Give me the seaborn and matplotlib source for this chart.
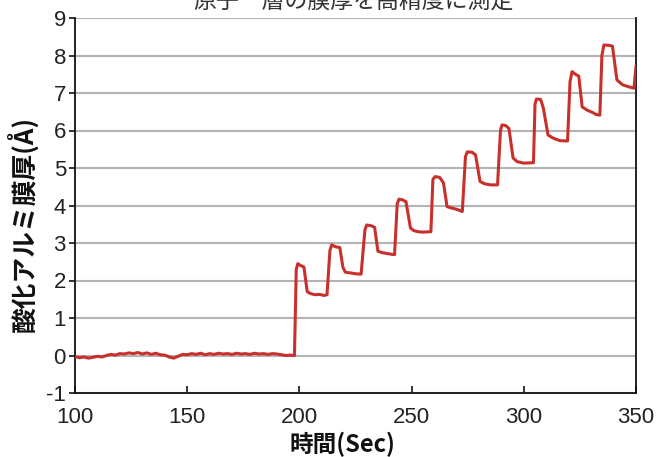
import matplotlib.pyplot as plt
import pandas as pd
import seaborn as sns

# Time axis (sec) and aluminium oxide thickness (angstrom)
time_sec = [
    100, 102, 104, 106, 108, 110, 112, 114, 116, 118, 120, 122, 124, 126, 128,
    130, 132, 134, 136, 138, 140, 142, 144, 146, 148, 150, 152, 154, 156, 158,
    160, 162, 164, 166, 168, 170, 172, 174, 176, 178, 180, 182, 184, 186, 188,
    190, 192, 194, 196, 197.8,
    198.6, 199.3, 200.5, 202.0, 203.5, 205, 207, 209, 211, 212.3,
    213.6, 214.4, 216, 218, 219.4, 220.5, 223, 225, 227.5,
    229.2, 230, 232, 233.5, 235, 237, 239, 241, 242.4,
    243.6, 244.4, 246, 247.5, 249.5, 251, 253, 255, 258.6,
    259.5, 260.5, 262.5, 264.2, 265.8, 268, 270, 272.6,
    274, 274.8, 277, 278.5, 280.5, 282.5, 285, 288.3,
    289.6, 290.3, 292, 293.4, 295.2, 297, 300, 304.3,
    305, 305.6, 307.5, 308.7, 310.8, 313, 316, 319.5,
    320.6, 321.5, 323, 324.5, 326, 328, 331, 332, 333.9,
    334.8, 335.7, 338, 339.5, 341.5, 344, 347, 349.1, 350,
]
thickness = [
    -0.03, -0.06, -0.04, -0.07, -0.05, -0.02, -0.04, 0.00, 0.03, 0.01, 0.05,
    0.04, 0.07, 0.05, 0.08, 0.04, 0.07, 0.03, 0.06, 0.02, 0.01, -0.04, -0.07,
    -0.02, 0.03, 0.02, 0.05, 0.03, 0.06, 0.02, 0.05, 0.03, 0.06, 0.04, 0.05,
    0.03, 0.06, 0.04, 0.05, 0.03, 0.06, 0.04, 0.05, 0.03, 0.05, 0.04, 0.02,
    0.00, 0.01, 0.00,
    2.30, 2.45, 2.40, 2.36, 1.70, 1.65, 1.62, 1.63, 1.60, 1.62,
    2.80, 2.95, 2.90, 2.88, 2.35, 2.22, 2.20, 2.18, 2.17,
    3.35, 3.48, 3.46, 3.42, 2.78, 2.74, 2.72, 2.70, 2.69,
    4.05, 4.17, 4.15, 4.10, 3.40, 3.33, 3.30, 3.29, 3.30,
    4.70, 4.77, 4.75, 4.60, 3.97, 3.93, 3.90, 3.84,
    5.30, 5.43, 5.42, 5.35, 4.64, 4.58, 4.55, 4.55,
    6.00, 6.15, 6.13, 6.05, 5.27, 5.17, 5.13, 5.14,
    6.70, 6.84, 6.83, 6.60, 5.88, 5.80, 5.73, 5.72,
    7.30, 7.57, 7.50, 7.45, 6.63, 6.55, 6.47, 6.43, 6.41,
    8.00, 8.28, 8.27, 8.25, 7.35, 7.22, 7.16, 7.13, 7.72,
]
x_ticks = [100, 150, 200, 250, 300, 350]
y_ticks = [-1, 0, 1, 2, 3, 4, 5, 6, 7, 8, 9]

df = pd.DataFrame({"time": time_sec, "thickness": thickness})

sns.set_theme(style="white")
plt.rcParams['font.family'] = ['Liberation Sans', 'DejaVu Sans']
plt.rcParams['axes.unicode_minus'] = False
cjk = ['Noto Sans CJK JP', 'DejaVu Sans']

fig = plt.figure(figsize=(6.59, 4.57), dpi=100)
ax = fig.add_axes([75 / 659, 1 - 393 / 457, (636 - 75) / 659, (393 - 18) / 457])

sns.lineplot(ax=ax, data=df, x="time", y="thickness", color="#c8302c",
             linewidth=2.2, zorder=3)

ax.set_xlim(100, 350)
ax.set_ylim(-1, 9)
ax.set_xticks(x_ticks)
ax.set_yticks(y_ticks)
ax.yaxis.grid(True, color="#b4b4b4", linewidth=1.5)
ax.set_axisbelow(True)

for side in ["left", "bottom", "right"]:
    ax.spines[side].set_color("#111111")
    ax.spines[side].set_linewidth(1.3)
ax.spines["top"].set_visible(False)

ax.tick_params(axis="y", direction="out", length=4, width=1.2, color="#111111",
               labelsize=16, labelcolor="#222222", pad=2.5, left=True)
ax.tick_params(axis="x", direction="in", length=5, width=1.2, color="#111111",
               labelsize=16, labelcolor="#222222", pad=10, bottom=True)

ax.set_xlabel("時間(Sec)", family=cjk, fontsize=17, fontweight="bold",
              color="#111111")
ax.set_ylabel("酸化アルミ膜厚(Å)", family=cjk, fontsize=18.5, fontweight="bold",
              color="#111111")
ax.xaxis.set_label_coords(0.476, -0.103)
ax.yaxis.set_label_coords(-0.064, 0.45)

# Title is cut off at the top edge of the picture
fig.text(0.536, 1 - 8 / 457, "原子一層の膜厚を高精度に測定", family=cjk,
         fontsize=16.5, color="#333333", ha="center", va="baseline")

fig.savefig("out.png", dpi=100)
plt.close(fig)
